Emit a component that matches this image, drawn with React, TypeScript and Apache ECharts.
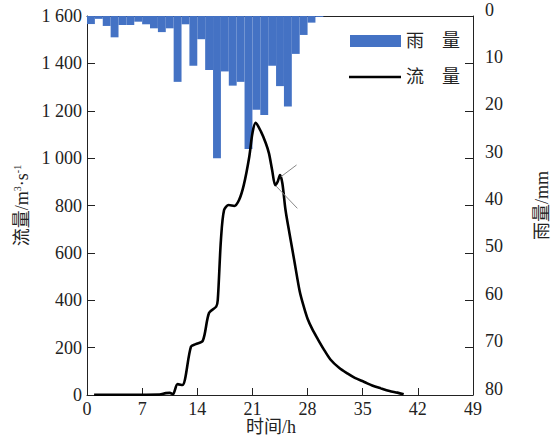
import React, { useEffect, useRef } from "react";
import * as echarts from "echarts";

// Hourly rainfall (mm), hour i spans [i, i+1)
const rainfall = [
  1.7, 0.6, 2.1, 4.5, 1.9, 1.9, 1.2, 1.75, 2.6, 3.4,
  2.6, 13.9, 1.75, 10.5, 4.9, 11.4, 30.0, 11.7, 14.7, 13.9,
  28.1, 19.8, 20.9, 10.5, 14.8, 19.1, 8.0, 4.0, 1.4, 0.2,
];

// Discharge hydrograph: time (h) and flow (m3/s)
const flowTime = [
  0.9, 5, 9.2, 10.0, 10.5, 10.9, 11.5, 12.1, 13.2, 13.8,
  14.7, 15.5, 16.4, 16.6, 17.0, 17.4, 18.0, 18.7, 19.3, 19.9,
  20.6, 21.0, 21.4, 22.1, 22.7, 23.1, 23.5, 23.9, 24.2, 24.5,
  24.8, 25.2, 25.7, 26.3, 27.0, 27.5, 28.0, 28.6, 29.3, 30.0,
  30.9, 32.0, 33.1, 34.0, 35.2, 36.2, 37.3, 38.4, 39.4, 40.2,
];
const flowValue = [
  1, 1, 2, 8, 9, 3, 46, 42, 204, 215,
  229, 347, 373, 401, 654, 781, 802, 798, 823, 886,
  1006, 1105, 1149, 1111, 1063, 1020, 950, 886, 900, 929,
  894, 781, 683, 570, 438, 375, 322, 278, 236, 196,
  150, 115, 90, 72, 55, 40, 28, 17, 10, 3,
];

// Two thin annotation strokes near the secondary peak: [time, flow] pairs
const annotationSegments = [
  [[24.6, 921], [26.6, 971]],
  [[24.0, 882], [26.7, 788]],
];

const xTicks = { min: 0, max: 49, interval: 7 };
const flowTicks = { min: 0, max: 1600, interval: 200 };
const rainTicks = { min: 0, max: 80, interval: 10 };

const FONT = '"Liberation Serif", "Noto Sans CJK SC", serif';
const INK = "#222";
const RAIN_NAME = "雨　量";
const FLOW_NAME = "流　量";

export default function App() {
  const ref = useRef<HTMLDivElement>(null);

  useEffect(() => {
    if (!ref.current) return;
    const chart = echarts.init(ref.current, undefined, { renderer: "svg" });

    const hourBands = Array.from({ length: xTicks.max }, (_, i) => String(i));
    const rainData = hourBands.map((_, i) => (i < rainfall.length ? rainfall[i] : null));
    const flowData = flowTime.map((t, i) => [t, flowValue[i]]);

    const legendText = { fontFamily: FONT, fontSize: 18, color: INK };

    chart.setOption({
      animation: false,
      grid: { left: 87, right: 84, top: 16, bottom: 45, outerBoundsMode: "none", containLabel: false },
      legend: [
        {
          left: 350,
          top: 32,
          padding: 0,
          itemWidth: 51,
          itemHeight: 12,
          itemGap: 0,
          textStyle: legendText,
          data: [{ name: RAIN_NAME, icon: "rect" }],
        },
        {
          left: 349,
          top: 68,
          padding: 0,
          itemWidth: 52,
          itemHeight: 2.6,
          textStyle: legendText,
          data: [{ name: FLOW_NAME, icon: "rect", itemStyle: { color: "#000" } }],
        },
      ],
      xAxis: [
        {
          type: "value",
          position: "bottom",
          min: xTicks.min,
          max: xTicks.max,
          interval: xTicks.interval,
          name: "时间/h",
          nameLocation: "middle",
          nameGap: 23,
          nameMoveOverlap: false,
          nameTextStyle: { fontFamily: FONT, fontSize: 18, color: INK, padding: [0, 18, 0, 0] },
          axisLine: { show: true, lineStyle: { color: INK, width: 1 } },
          axisTick: { show: true, inside: true, length: 7, lineStyle: { color: INK } },
          axisLabel: { fontFamily: FONT, fontSize: 18, color: INK, margin: 5 },
          splitLine: { show: false },
        },
        {
          type: "category",
          position: "top",
          data: hourBands,
          boundaryGap: true,
          axisLine: { show: true, lineStyle: { color: INK, width: 1 } },
          axisTick: { show: false },
          axisLabel: { show: false },
          splitLine: { show: false },
        },
      ],
      yAxis: [
        {
          type: "value",
          position: "left",
          min: flowTicks.min,
          max: flowTicks.max,
          interval: flowTicks.interval,
          name: "流量/m{sup|3}·s{sup|-1}",
          nameLocation: "middle",
          nameGap: 54,
          nameTextStyle: {
            fontFamily: FONT,
            fontSize: 18,
            color: INK,
            rich: {
              sup: { fontFamily: FONT, fontSize: 10, color: INK, verticalAlign: "top", padding: [0, 0, 8, 0] },
            },
          },
          axisLine: { show: true, lineStyle: { color: INK, width: 1 } },
          axisTick: { show: true, inside: true, length: 8, lineStyle: { color: INK } },
          axisLabel: {
            fontFamily: FONT,
            fontSize: 18,
            color: INK,
            margin: 5,
            formatter: (v: number) =>
              v >= 1000 ? `${Math.floor(v / 1000)} ${String(v % 1000).padStart(3, "0")}` : String(v),
          },
          splitLine: { show: false },
        },
        {
          type: "value",
          position: "right",
          inverse: true,
          min: rainTicks.min,
          max: rainTicks.max,
          interval: rainTicks.interval,
          name: "雨量/mm",
          nameLocation: "middle",
          nameGap: 60,
          nameRotate: 90,
          nameTextStyle: { fontFamily: FONT, fontSize: 18, color: INK },
          axisLine: { show: true, lineStyle: { color: INK, width: 1 } },
          axisTick: { show: true, inside: true, length: 8, lineStyle: { color: INK } },
          axisLabel: {
            fontFamily: FONT,
            fontSize: 18,
            color: INK,
            margin: 12,
            verticalAlign: "bottom",
            lineHeight: 13,
          },
          splitLine: { show: false },
        },
      ],
      series: [
        {
          name: RAIN_NAME,
          type: "bar",
          xAxisIndex: 1,
          yAxisIndex: 1,
          data: rainData,
          barWidth: "100%",
          barCategoryGap: "0%",
          itemStyle: { color: "#4472C4" },
          z: 1,
        },
        {
          name: FLOW_NAME,
          type: "line",
          xAxisIndex: 0,
          yAxisIndex: 0,
          data: flowData,
          showSymbol: false,
          symbol: "none",
          smooth: 0.3,
          lineStyle: { color: "#000", width: 2.6 },
          itemStyle: { color: "#000" },
          z: 3,
          markLine: {
            silent: true,
            symbol: "none",
            label: { show: false },
            lineStyle: { color: "#888", width: 1, type: "solid" },
            data: annotationSegments.map(([a, b]) => [{ coord: a }, { coord: b }]),
          },
        },
      ],
    });

    return () => chart.dispose();
  }, []);

  return (
    <div
      ref={ref}
      style={{ position: "fixed", left: 0, top: 0, width: 557, height: 440, background: "#fff" }}
    />
  );
}
